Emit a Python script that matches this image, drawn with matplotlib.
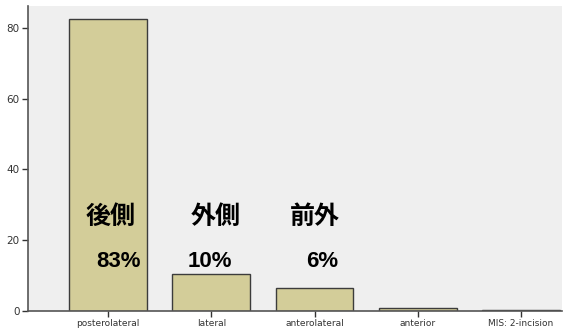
import matplotlib
matplotlib.use("Agg")
import matplotlib.pyplot as plt

categories = ["posterolateral", "lateral", "anterolateral", "anterior", "MIS: 2-incision"]
values = [82.5, 10.4, 6.4, 0.8, 0.3]
yticks = [0, 20, 40, 60, 80]

# annotation labels (name, percentage) placed over the first three bars
ann_names = ["後側", "外側", "前外"]
ann_pcts = ["83%", "10%", "6%"]

fig = plt.figure(figsize=(5.64, 3.34), dpi=100)
fig.patch.set_facecolor("white")
ax = fig.add_axes([28 / 564, 1 - 311 / 334, (562 - 28) / 564, (311 - 6) / 334])
ax.set_facecolor("#efefef")

x = list(range(len(categories)))
ax.bar(x, values, width=0.755, color="#d3cd99", edgecolor="#3c3c3c", linewidth=1.0, zorder=2)

ax.set_xlim(-0.775, 4.397)
ax.set_ylim(0, 86.2)
ax.set_yticks(yticks)
ax.set_yticklabels([str(t) for t in yticks], fontsize=7.5, color="#333333", family="DejaVu Sans")
ax.set_xticks(x)
ax.set_xticklabels(categories, fontsize=6.5, color="#333333", family="DejaVu Sans")

for side in ("top", "right"):
    ax.spines[side].set_visible(False)
for side in ("left", "bottom"):
    ax.spines[side].set_color("#555555")
    ax.spines[side].set_linewidth(1.2)
ax.tick_params(axis="both", direction="out", length=4, width=1, color="#333333", pad=2)

cjk = ["Noto Sans CJK JP", "DejaVu Sans"]
name_x = [0.02, 1.04, 2.0]
pct_x = [0.1, 0.99, 2.07]
for nx, px, name, pct in zip(name_x, pct_x, ann_names, ann_pcts):
    ax.text(nx, 26.6, name, ha="center", va="center", fontsize=18, fontweight="bold",
            family=cjk, color="black", zorder=3)
    ax.text(px, 14.1, pct, ha="center", va="center", fontsize=16,
            family=["Liberation Sans", "DejaVu Sans"], fontweight="bold", color="black", zorder=3)

fig.savefig("out.png", dpi=100)
